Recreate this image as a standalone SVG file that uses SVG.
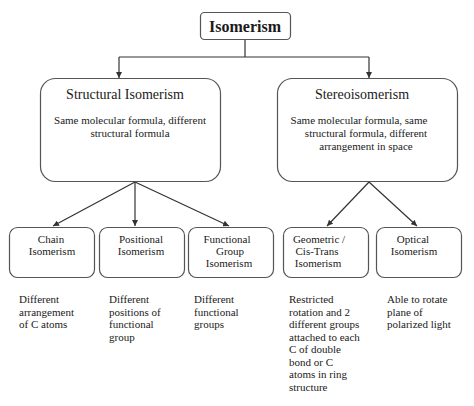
<svg xmlns="http://www.w3.org/2000/svg" width="474" height="406" viewBox="0 0 474 406">
<style>
.box{fill:#fff;stroke:#555;stroke-width:1.2}
.t{font-family:"Liberation Serif","Times New Roman",serif;fill:#1a1a1a;text-anchor:middle}
.d{font-family:"Liberation Serif","Times New Roman",serif;fill:#1a1a1a;font-size:11px}
.c{stroke:#333;stroke-width:1.2;fill:none}
</style>
<defs>
<marker id="ah" viewBox="0 0 6 6" refX="6" refY="3" markerWidth="6" markerHeight="6" markerUnits="userSpaceOnUse" orient="auto">
<path d="M0,0 L6,3 L0,6 z" fill="#333"/>
</marker>
</defs>
<rect width="474" height="406" fill="#fff"/>
<g id="connectors">
<path class="c" d="M245,40 V57 M119,57 H369"/>
<path class="c" d="M119,57 V78" marker-end="url(#ah)"/>
<path class="c" d="M369,57 V78" marker-end="url(#ah)"/>
<path class="c" d="M135,182 L53,226" marker-end="url(#ah)"/>
<path class="c" d="M135,182 V226" marker-end="url(#ah)"/>
<path class="c" d="M135,182 L229,226" marker-end="url(#ah)"/>
<path class="c" d="M369,182 L327,226" marker-end="url(#ah)"/>
<path class="c" d="M369,182 L417,226" marker-end="url(#ah)"/>
</g>
<g id="isomerism">
<rect class="box" x="200.5" y="12.5" width="90" height="27" rx="4"/>
<text class="t" x="245" y="32" font-size="16" font-weight="bold">Isomerism</text>
</g>
<g id="structural">
<rect class="box" x="40.5" y="78.5" width="180" height="103" rx="15"/>
<text class="t" x="125" y="99" font-size="14">Structural Isomerism</text>
<text class="t" x="130" y="124" font-size="11">Same molecular formula, different</text>
<text class="t" x="130" y="137" font-size="11">structural formula</text>
</g>
<g id="stereo">
<rect class="box" x="277.5" y="78.5" width="180" height="103" rx="15"/>
<text class="t" x="362" y="99" font-size="14">Stereoisomerism</text>
<text class="t" x="359" y="124" font-size="11">Same molecular formula, same</text>
<text class="t" x="366" y="137" font-size="11">structural formula, different</text>
<text class="t" x="366" y="150" font-size="11">arrangement in space</text>
</g>
<g id="chain">
<rect class="box" x="9.5" y="227.5" width="85" height="50" rx="8"/>
<text class="t" x="51" y="243" font-size="11">Chain</text>
<text class="t" x="52" y="255" font-size="11">Isomerism</text>
</g>
<g id="positional">
<rect class="box" x="99.5" y="227.5" width="85" height="50" rx="8"/>
<text class="t" x="141" y="243" font-size="11">Positional</text>
<text class="t" x="141" y="255" font-size="11">Isomerism</text>
</g>
<g id="functional">
<rect class="box" x="188.5" y="227.5" width="85" height="50" rx="8"/>
<text class="t" x="227" y="243" font-size="11">Functional</text>
<text class="t" x="230" y="255" font-size="11">Group</text>
<text class="t" x="229" y="267" font-size="11">Isomerism</text>
</g>
<g id="geometric">
<rect class="box" x="283.5" y="227.5" width="85" height="50" rx="8"/>
<text class="t" x="319" y="243" font-size="11">Geometric /</text>
<text class="t" x="317" y="255" font-size="11">Cis-Trans</text>
<text class="t" x="318" y="267" font-size="11">Isomerism</text>
</g>
<g id="optical">
<rect class="box" x="376.5" y="227.5" width="85" height="50" rx="8"/>
<text class="t" x="413" y="243" font-size="11">Optical</text>
<text class="t" x="414" y="255" font-size="11">Isomerism</text>
</g>
<g id="descriptions">
<text class="d" x="19" y="303">Different</text>
<text class="d" x="19" y="315.5">arrangement</text>
<text class="d" x="19" y="328">of C atoms</text>
<text class="d" x="109" y="303">Different</text>
<text class="d" x="109" y="315.5">positions of</text>
<text class="d" x="109" y="328">functional</text>
<text class="d" x="109" y="340.5">group</text>
<text class="d" x="194" y="303">Different</text>
<text class="d" x="194" y="315.5">functional</text>
<text class="d" x="194" y="328">groups</text>
<text class="d" x="289" y="303">Restricted</text>
<text class="d" x="289" y="315.5">rotation and 2</text>
<text class="d" x="289" y="328">different groups</text>
<text class="d" x="289" y="340.5">attached to each</text>
<text class="d" x="289" y="353">C of double</text>
<text class="d" x="289" y="365.5">bond or C</text>
<text class="d" x="289" y="378">atoms in ring</text>
<text class="d" x="289" y="390.5">structure</text>
<text class="d" x="387" y="303">Able to rotate</text>
<text class="d" x="387" y="315.5">plane of</text>
<text class="d" x="387" y="328">polarized light</text>
</g>
</svg>
